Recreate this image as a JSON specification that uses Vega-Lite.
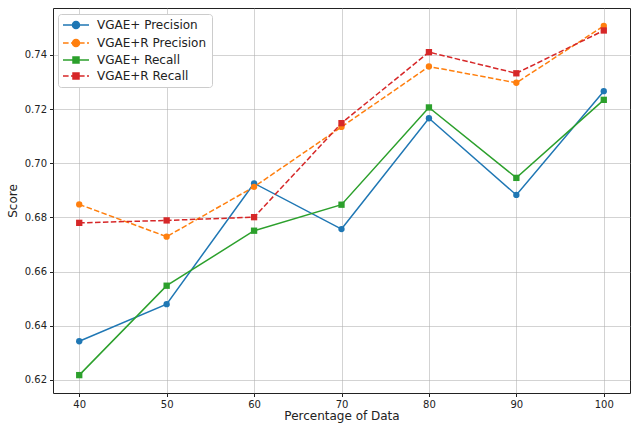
{
  "$schema": "https://vega.github.io/schema/vega-lite/v6.json",
  "width": 577,
  "height": 385,
  "autosize": {"type": "none"},
  "padding": {"left": 53, "top": 8, "right": 1, "bottom": 31},
  "background": "white",
  "config": {
    "font": "DejaVu Sans",
    "view": {"stroke": "#222222", "strokeWidth": 1},
    "axis": {
      "domain": false,
      "gridColor": "#b0b0b0",
      "gridOpacity": 0.7,
      "gridWidth": 0.8,
      "tickColor": "#222222",
      "tickSize": 3.5,
      "labelColor": "#222222",
      "labelFontSize": 10,
      "titleFontSize": 12,
      "titleFontWeight": "normal",
      "titleColor": "#222222",
      "labelPadding": 3
    }
  },
  "data": {
    "values": [
      {"pct": 40, "series": "VGAE+ Precision", "score": 0.6343},
      {"pct": 50, "series": "VGAE+ Precision", "score": 0.6480},
      {"pct": 60, "series": "VGAE+ Precision", "score": 0.6926},
      {"pct": 70, "series": "VGAE+ Precision", "score": 0.6757},
      {"pct": 80, "series": "VGAE+ Precision", "score": 0.7166},
      {"pct": 90, "series": "VGAE+ Precision", "score": 0.6883},
      {"pct": 100, "series": "VGAE+ Precision", "score": 0.7266},
      {"pct": 40, "series": "VGAE+R Precision", "score": 0.6848},
      {"pct": 50, "series": "VGAE+R Precision", "score": 0.6729},
      {"pct": 60, "series": "VGAE+R Precision", "score": 0.6913},
      {"pct": 70, "series": "VGAE+R Precision", "score": 0.7134},
      {"pct": 80, "series": "VGAE+R Precision", "score": 0.7357},
      {"pct": 90, "series": "VGAE+R Precision", "score": 0.7297},
      {"pct": 100, "series": "VGAE+R Precision", "score": 0.7507},
      {"pct": 40, "series": "VGAE+ Recall", "score": 0.6218},
      {"pct": 50, "series": "VGAE+ Recall", "score": 0.6548},
      {"pct": 60, "series": "VGAE+ Recall", "score": 0.6751},
      {"pct": 70, "series": "VGAE+ Recall", "score": 0.6847},
      {"pct": 80, "series": "VGAE+ Recall", "score": 0.7206},
      {"pct": 90, "series": "VGAE+ Recall", "score": 0.6946},
      {"pct": 100, "series": "VGAE+ Recall", "score": 0.7234},
      {"pct": 40, "series": "VGAE+R Recall", "score": 0.6780},
      {"pct": 50, "series": "VGAE+R Recall", "score": 0.6789},
      {"pct": 60, "series": "VGAE+R Recall", "score": 0.6801},
      {"pct": 70, "series": "VGAE+R Recall", "score": 0.7148},
      {"pct": 80, "series": "VGAE+R Recall", "score": 0.7410},
      {"pct": 90, "series": "VGAE+R Recall", "score": 0.7332},
      {"pct": 100, "series": "VGAE+R Recall", "score": 0.7490}
    ]
  },
  "encoding": {
    "x": {
      "field": "pct", "type": "quantitative",
      "scale": {"domain": [37, 103], "nice": false, "zero": false},
      "axis": {"values": [40, 50, 60, 70, 80, 90, 100], "title": "Percentage of Data", "titlePadding": 1}
    },
    "y": {
      "field": "score", "type": "quantitative",
      "scale": {"domain": [0.6152, 0.7573], "nice": false, "zero": false},
      "axis": {"values": [0.62, 0.64, 0.66, 0.68, 0.70, 0.72, 0.74], "format": ".2f", "title": "Score", "titlePadding": 5}
    },
    "color": {
      "field": "series", "type": "nominal",
      "scale": {
        "domain": ["VGAE+ Precision", "VGAE+R Precision", "VGAE+ Recall", "VGAE+R Recall"],
        "range": ["#1f77b4", "#ff7f0e", "#2ca02c", "#d62728"]
      },
      "legend": {
        "title": null,
        "orient": "none",
        "legendX": 5,
        "legendY": 6,
        "labelFontSize": 12,
        "labelColor": "#222222",
        "symbolSize": 64,
        "symbolStrokeWidth": 1.5,
        "symbolOffset": 7,
        "labelOffset": 15,
        "rowPadding": 4,
        "padding": 5,
        "fillColor": "white",
        "strokeColor": "#cccccc",
        "cornerRadius": 3,
        "encode": {
          "symbols": {
            "update": {
              "shape": {"signal": "indexof(datum.value, '+R') >= 0 ? (indexof(datum.value, 'Precision') >= 0 ? 'M-3.25,0L-1.85,0M-1.25,0L0.15,0M0.75,0L2.15,0M2.75,0L3.25,0M0.875,0A0.875,0.875,0,1,1,-0.875,0A0.875,0.875,0,1,1,0.875,0Z' : 'M-3.25,0L-1.85,0M-1.25,0L0.15,0M0.75,0L2.15,0M2.75,0L3.25,0M-0.75,-0.75L0.75,-0.75L0.75,0.75L-0.75,0.75Z') : (indexof(datum.value, 'Precision') >= 0 ? 'M-3.25,0L3.25,0M0.875,0A0.875,0.875,0,1,1,-0.875,0A0.875,0.875,0,1,1,0.875,0Z' : 'M-3.25,0L3.25,0M-0.75,-0.75L0.75,-0.75L0.75,0.75L-0.75,0.75Z')"},
              "size": {"value": 64},
              "fill": {"signal": "scale('color', datum.value)"},
              "stroke": {"signal": "scale('color', datum.value)"},
              "strokeWidth": {"value": 1.5},
              "strokeDash": {"value": []},
              "opacity": {"value": 1},
              "fillOpacity": {"value": 1}
            }
          }
        }
      }
    }
  },
  "layer": [
    {
      "transform": [{"filter": {"field": "series", "oneOf": ["VGAE+ Precision", "VGAE+ Recall"]}}],
      "mark": {"type": "line", "strokeWidth": 1.5},
      "encoding": {}
    },
    {
      "transform": [{"filter": {"field": "series", "oneOf": ["VGAE+R Precision", "VGAE+R Recall"]}}],
      "mark": {"type": "line", "strokeWidth": 1.5, "strokeDash": [5.5, 2.4]},
      "encoding": {}
    },
    {
      "transform": [{"filter": {"field": "series", "oneOf": ["VGAE+ Precision", "VGAE+R Precision"]}}],
      "mark": {"type": "point", "shape": "circle", "filled": true, "opacity": 1, "size": 40},
      "encoding": {}
    },
    {
      "transform": [{"filter": {"field": "series", "oneOf": ["VGAE+ Recall", "VGAE+R Recall"]}}],
      "mark": {"type": "point", "shape": "square", "filled": true, "opacity": 1, "size": 40},
      "encoding": {}
    }
  ]
}
